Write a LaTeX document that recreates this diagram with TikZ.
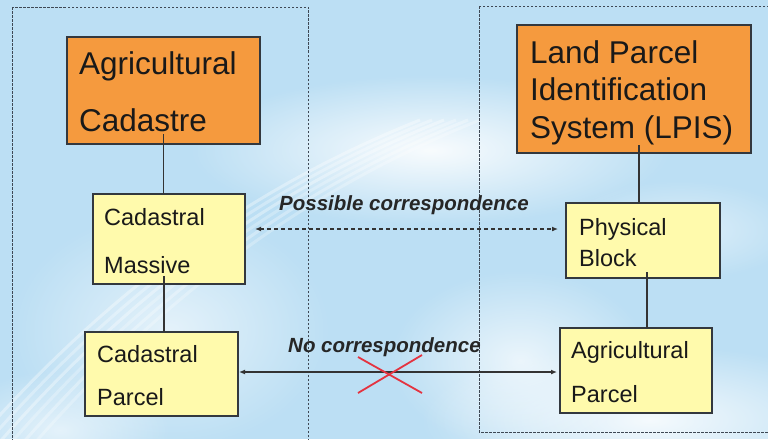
\documentclass[tikz,border=0pt]{standalone}
\usepackage{fontspec}
\setmainfont{Liberation Sans}
\usetikzlibrary{arrows.meta,calc,fadings}

\definecolor{sky}{HTML}{BCDFF4}
\definecolor{orangebox}{HTML}{F59A3E}
\definecolor{yellowbox}{HTML}{FFFAAC}
\definecolor{framegray}{HTML}{33383E}
\definecolor{dashgray}{HTML}{3E4854}
\definecolor{crossred}{HTML}{E43340}

\tikzfading[name=softspot, inner color=transparent!0, outer color=transparent!100]

% stacked lines with a fixed baseline distance; the first baseline is the node's base
\newcommand\twolines[3]{\vtop{\baselineskip=#1\relax\hbox{#2}\hbox{#3}}}
\newcommand\threelines[4]{\vtop{\baselineskip=#1\relax\hbox{#2}\hbox{#3}\hbox{#4}}}

\begin{document}
\begin{tikzpicture}[x=1pt,y=-1pt,
  headbox/.style={draw=framegray, line width=1.4pt, fill=orangebox, inner sep=0pt, outer sep=0pt, anchor=north west},
  itembox/.style={draw=framegray, line width=1.4pt, fill=yellowbox, inner sep=0pt, outer sep=0pt, anchor=north west},
  headtext/.style={inner sep=0pt, anchor=base west, text=black!90, font=\fontsize{31.5}{36}\selectfont},
  itemtext/.style={inner sep=0pt, anchor=base west, text=black!90, font=\fontsize{23.5}{27}\selectfont},
  notetext/.style={inner sep=0pt, anchor=base west, text=black!85, font=\fontsize{20.5}{23}\selectfont\bfseries\itshape},
  frame/.style={draw=dashgray, line width=1pt, dash pattern=on 2.5pt off 1.5pt},
  link/.style={draw=black!80, line width=1.1pt},
  dashlink/.style={draw=black!80, line width=1.2pt, dash pattern=on 4pt off 3pt, {Latex[length=6pt,width=5pt]}-{Latex[length=6pt,width=5pt]}},
  solidlink/.style={draw=black!80, line width=1.3pt, {Latex[length=6pt,width=5pt]}-{Latex[length=6pt,width=5pt]}},
  cross/.style={draw=crossred, line width=1.8pt}
]
\useasboundingbox (0,0) rectangle (768,439);
\clip (0,0) rectangle (768,439);

% sky background with soft white clouds and streaks
\fill[sky] (0,0) rectangle (768,439);
\fill[white, opacity=0.9, path fading=softspot] (430,150) ellipse (240pt and 75pt);
\fill[white, opacity=0.85, path fading=softspot] (650,420) ellipse (230pt and 75pt);
\fill[white, opacity=0.6, path fading=softspot] (170,330) ellipse (160pt and 120pt);
\fill[white, opacity=0.7, path fading=softspot] (520,360) ellipse (130pt and 90pt);
\fill[white, opacity=0.6, path fading=softspot] (60,430) ellipse (110pt and 60pt);
\fill[white, opacity=0.5, path fading=softspot] (680,230) ellipse (120pt and 50pt);
\foreach \a/\o in {0/0.35,12/0.3,24/0.35,36/0.25,48/0.3,60/0.25} {
  \draw[white, opacity=\o, line width=3pt] (-40+\a,460) .. controls (80+\a,320) and (220+\a,200) .. (420+\a,120);
}

% dashed frames of the two systems
\draw[frame] (12,7) rectangle (308,450);
\draw[frame] (479,6) rectangle (790,432);

% boxes
\node[headbox, minimum width=193pt, minimum height=107pt] (ac) at (67,37) {};
\node[headbox, minimum width=234pt, minimum height=128pt] (lpis) at (517,25) {};
\node[itembox, minimum width=152pt, minimum height=90pt] (cm) at (93,194) {};
\node[itembox, minimum width=153pt, minimum height=84pt] (cp) at (85,332) {};
\node[itembox, minimum width=154pt, minimum height=75pt] (pb) at (566,203) {};
\node[itembox, minimum width=152pt, minimum height=85pt] (ap) at (560,328) {};

% vertical links between the levels
\coordinate (l1) at ($(ac.south)+(0,-10)$);
\draw[link] (l1) -- (l1 |- cm.north);
\coordinate (l2) at ($(cm.south)+(-5,-8)$);
\draw[link] (l2) -- (l2 |- cp.north);
\coordinate (l3) at ($(lpis.south)+(5,-8)$);
\draw[link] (l3) -- (l3 |- pb.north);
\coordinate (l4) at ($(pb.south)+(4,-6)$);
\draw[link] (l4) -- (l4 |- ap.north);

% box texts
\node[headtext] (act) at (79,74) {\twolines{57pt}{Agricultural}{Cadastre}};
\node[headtext] (lpist) at (530,63) {\threelines{37.5pt}{Land Parcel}{Identification}{System (LPIS)}};
\node[itemtext] (cmt) at (104,225) {\twolines{48pt}{Cadastral}{Massive}};
\node[itemtext] (cpt) at (97,362) {\twolines{43pt}{Cadastral}{Parcel}};
\node[itemtext] (pbt) at (579,235) {\twolines{31pt}{Physical}{Block}};
\node[itemtext] (apt) at (571,358) {\twolines{44pt}{Agricultural}{Parcel}};

% correspondences between the two systems
\coordinate (pa) at ($(cm.east)+(10,-10)$);
\draw[dashlink, shorten >=8pt] (pa) -- (pa -| pb.west);
\node[notetext] (pct) at (279,210) {Possible correspondence};

\coordinate (na) at ($(cp.east)+(1,-2)$);
\draw[solidlink, shorten >=3pt] (na) -- (na -| ap.west);
\node[notetext] (nct) at (288,352) {No correspondence};
\coordinate (x0) at (390,374);
\draw[cross] ($(x0)+(-32,-17)$) -- ($(x0)+(32,19)$);
\draw[cross] ($(x0)+(-32,19)$) -- ($(x0)+(32,-19)$);
\end{tikzpicture}
\end{document}
